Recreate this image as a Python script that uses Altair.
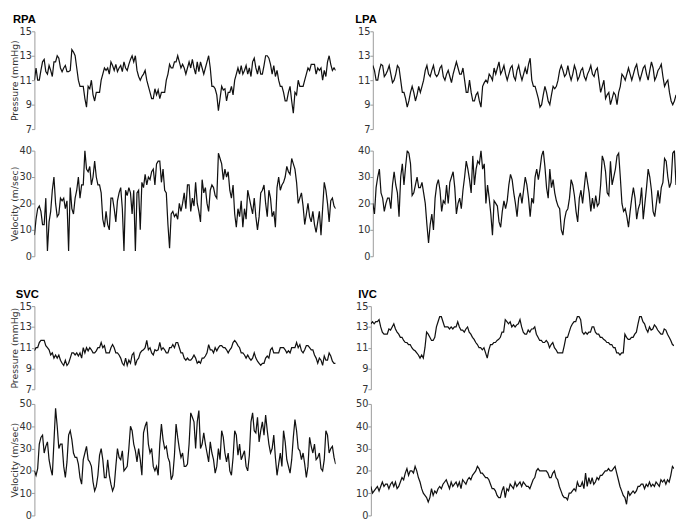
import altair as alt
import pandas as pd

# ---- data (one value per equally spaced sample) ----
RPA_PRESSURE = [
    11.0, 12.0, 11.0, 11.0, 11.8, 12.5, 12.7, 11.7, 11.5, 12.2,
    11.8, 11.3, 12.5, 12.5, 13.0, 12.8, 12.0, 11.7, 12.0, 12.2,
    11.7, 11.7, 11.8, 13.5, 13.3, 13.0, 12.0, 11.0, 10.5, 10.5,
    10.5, 9.5, 8.8, 10.5, 10.3, 11.0, 9.8, 9.3, 10.0, 10.0,
    10.0, 11.0, 11.5, 12.0, 11.8, 12.0, 11.5, 12.5, 12.2, 11.8,
    12.3, 11.7, 12.0, 12.2, 11.7, 12.5, 12.0, 11.8, 12.3, 12.7,
    13.0, 12.5, 13.0, 11.8, 11.3, 11.0, 11.3, 11.5, 11.8, 11.0,
    10.5, 10.0, 9.5, 9.5, 10.3, 9.8, 10.2, 9.5, 10.0, 10.0,
    10.0, 11.0, 11.5, 12.3, 12.0, 12.0, 12.5, 12.5, 13.0, 12.5,
    12.0, 12.3, 12.0, 11.5, 12.0, 12.5, 12.0, 12.7, 12.0, 11.5,
    12.5, 11.7, 12.5, 12.0, 11.5, 12.0, 12.5, 13.0, 12.0, 10.5,
    10.5, 10.3, 9.8, 8.5, 9.5, 10.5, 10.2, 10.3, 9.3, 10.0,
    10.0, 10.5, 9.8, 11.0, 11.5, 12.0, 11.5, 12.2, 11.5, 11.8,
    12.2, 11.5, 12.0, 11.3, 12.5, 12.8, 12.0, 11.5, 12.2, 11.5,
    11.5, 12.2, 13.0, 13.0, 12.8, 12.3, 11.5, 12.2, 11.3, 11.8,
    11.0, 10.5, 10.5, 10.0, 9.3, 9.3, 10.0, 10.5, 9.3, 8.3,
    10.0, 9.8, 11.0, 10.5, 10.5, 10.5, 11.0, 11.5, 12.0, 11.8,
    12.3, 12.3, 12.3, 11.5, 12.0, 11.8, 12.0, 11.0, 11.8, 11.3,
    12.5, 13.0, 12.3, 11.8, 12.0, 11.8,
]

RPA_VELOCITY = [
    8, 14, 18, 19, 17, 12, 12, 22, 2, 13,
    17, 25, 30, 20, 15, 16, 22, 21, 22, 18,
    21, 2, 26, 18, 16, 22, 25, 30, 22, 27,
    27, 40, 33, 32, 34, 27, 30, 36, 30, 27,
    27, 24, 14, 11, 17, 12, 10, 22, 22, 18,
    13, 21, 24, 26, 18, 2, 25, 23, 26, 24,
    16, 25, 2, 24, 25, 10, 28, 26, 31, 27,
    30, 29, 32, 33, 27, 35, 36, 36, 28, 33,
    25, 24, 12, 3, 16, 17, 15, 16, 14, 20,
    17, 20, 24, 18, 27, 27, 17, 22, 19, 28,
    20, 17, 13, 29, 24, 26, 20, 17, 25, 27,
    26, 23, 22, 39, 37, 35, 29, 33, 30, 32,
    25, 22, 27, 16, 11, 18, 15, 21, 11, 18,
    14, 25, 22, 19, 16, 22, 15, 10, 15, 24,
    25, 27, 20, 15, 25, 22, 15, 17, 11, 26,
    30, 25, 27, 28, 30, 34, 32, 31, 37, 35,
    33, 28, 20, 22, 24, 19, 12, 16, 20, 15,
    13, 17, 12, 9, 13, 17, 8, 18, 28, 25,
    20, 13, 21, 22, 19, 18,
]

LPA_PRESSURE = [
    12.2, 11.8, 11.0, 11.0, 11.8, 12.3, 12.2, 11.3, 11.5, 11.8,
    12.2, 11.5, 10.8, 11.0, 11.5, 12.2, 12.0, 11.0, 10.0, 10.0,
    9.5, 8.8, 9.3, 10.0, 10.5, 10.0, 9.3, 9.8, 10.5, 10.0,
    10.5, 11.0, 11.8, 12.2, 11.5, 11.3, 11.8, 12.2, 11.5, 11.3,
    11.5, 12.0, 12.2, 11.3, 11.0, 11.5, 11.8, 11.3, 10.8, 11.5,
    12.0, 12.5, 12.0, 11.5, 11.5, 12.0, 11.0, 10.0, 10.0, 11.0,
    10.0, 9.3, 9.3, 9.8, 10.0, 9.3, 8.8, 10.5, 10.8, 11.0,
    10.8, 11.5, 11.3, 11.0, 12.0, 11.5, 12.0, 12.5, 11.5, 11.8,
    12.2, 11.5, 11.0, 11.5, 12.0, 12.2, 11.3, 11.0, 11.8, 12.2,
    11.5, 11.0, 11.5, 12.0, 11.5, 12.3, 12.8, 11.0, 10.5, 10.5,
    10.0, 9.5, 8.8, 9.0, 9.8, 10.5, 10.0, 9.3, 9.0, 9.8,
    10.5, 10.3, 10.5, 11.0, 11.8, 12.2, 11.8, 11.3, 11.5, 12.2,
    11.5, 11.0, 11.5, 12.2, 11.8, 11.0, 11.3, 11.8, 12.0, 11.3,
    11.0, 11.5, 11.8, 12.2, 11.5, 11.3, 11.8, 12.0, 11.0, 10.0,
    10.5, 11.0, 9.5, 9.8, 10.0, 9.0, 9.5, 10.0, 9.8, 9.0,
    10.0, 10.5, 11.5, 11.3, 11.0, 11.5, 12.0, 11.5, 11.0, 11.5,
    12.0, 12.3, 11.5, 11.0, 11.5, 12.0, 12.2, 11.5, 11.0, 11.8,
    12.5, 12.0, 11.0, 11.3, 11.8, 12.0, 12.3, 11.3, 10.5, 10.8,
    11.0, 10.0, 9.3, 9.0, 9.3, 9.8,
]

LPA_VELOCITY = [
    20, 16, 26, 30, 33, 24, 22, 17, 20, 22,
    22, 18, 27, 32, 27, 24, 15, 30, 35, 27,
    34, 40, 39, 35, 23, 24, 27, 30, 26, 26,
    28, 24, 20, 12, 5, 12, 16, 10, 22, 27,
    29, 25, 17, 21, 20, 27, 20, 28, 30, 32,
    26, 16, 20, 22, 18, 25, 30, 36, 33, 29,
    24, 38, 27, 33, 36, 35, 40, 33, 35, 20,
    27, 22, 16, 8, 21, 20, 19, 13, 11, 17,
    21, 18, 21, 27, 31, 29, 24, 20, 15, 22,
    24, 20, 25, 30, 27, 22, 15, 22, 20, 30,
    33, 29, 33, 38, 40, 34, 26, 22, 33, 26,
    29, 24, 21, 19, 18, 10, 8, 14, 17, 18,
    22, 29, 27, 23, 17, 13, 22, 25, 20, 26,
    32, 28, 24, 17, 22, 18, 23, 19, 20, 27,
    38, 36, 32, 24, 23, 36, 27, 30, 33, 38,
    39, 30, 20, 17, 18, 15, 11, 17, 22, 26,
    22, 14, 18, 20, 26, 14, 20, 26, 33, 30,
    25, 17, 15, 20, 25, 20, 26, 28, 37, 36,
    30, 26, 28, 39, 40, 27,
]

SVC_PRESSURE = [
    10.7, 11.0, 11.0, 11.5, 11.7, 11.7, 11.7, 11.2, 11.0, 10.8,
    10.3, 10.5, 10.0, 10.3, 10.0, 10.3, 9.8, 9.5, 9.3, 9.8,
    9.3, 9.5, 10.0, 10.5, 10.5, 10.3, 10.5, 10.2, 10.5, 10.0,
    11.0, 10.5, 11.0, 10.7, 11.0, 10.8, 10.5, 10.5, 10.7, 11.0,
    11.0, 11.5, 11.0, 11.2, 10.5, 10.5, 10.5, 11.0, 11.3, 11.0,
    10.5, 10.5, 10.3, 10.0, 9.5, 9.3, 10.0, 9.3, 9.8, 9.5,
    10.3, 10.5, 9.3, 9.8, 10.0, 10.5, 10.7, 10.8, 11.0, 11.7,
    10.8, 11.0, 10.5, 10.3, 10.8, 10.7, 10.8, 11.5, 10.8, 11.0,
    10.8, 10.5, 10.5, 11.0, 11.0, 11.3, 11.0, 11.5, 11.5, 11.0,
    10.5, 10.5, 10.0, 9.8, 10.0, 9.8, 9.8, 10.0, 10.3, 10.0,
    9.5, 9.7, 9.5, 10.0, 10.0, 10.2, 10.5, 11.3, 10.8, 10.8,
    10.5, 11.0, 10.7, 11.0, 11.2, 11.2, 11.0, 11.0, 10.8, 10.5,
    10.8, 11.0, 11.5, 11.7, 11.5, 11.2, 11.0, 10.5, 10.5, 10.3,
    10.0, 10.3, 10.0, 9.8, 10.0, 10.5, 10.0, 9.7, 9.5, 9.3,
    9.5, 9.5, 10.0, 10.2, 10.0, 10.8, 11.0, 10.5, 10.5, 10.5,
    10.5, 11.0, 11.0, 11.0, 10.8, 10.5, 10.7, 10.5, 11.0, 11.0,
    11.0, 11.5, 11.0, 11.3, 10.7, 10.5, 10.8, 11.2, 11.2, 11.0,
    10.8, 10.8, 10.3, 10.0, 9.5, 10.0, 9.8, 9.3, 10.2, 9.8,
    9.8, 10.5, 10.2, 9.7, 9.5, 9.5,
]

SVC_VELOCITY = [
    20, 18, 21, 32, 35, 36, 28, 31, 33, 25,
    21, 18, 33, 48, 40, 30, 32, 32, 22, 17,
    24, 36, 38, 34, 28, 26, 26, 23, 17, 14,
    25, 28, 31, 25, 24, 22, 15, 11, 13, 18,
    27, 30, 25, 17, 17, 25, 18, 14, 11, 13,
    22, 30, 26, 25, 29, 20, 21, 22, 30, 40,
    38, 32, 29, 24, 30, 25, 18, 37, 40, 42,
    32, 28, 30, 22, 20, 22, 18, 32, 41, 34,
    30, 31, 26, 24, 16, 18, 27, 41, 35, 30,
    26, 28, 22, 22, 23, 32, 46, 44, 42, 30,
    42, 47, 30, 32, 37, 32, 28, 24, 33, 28,
    25, 19, 22, 30, 25, 38, 35, 28, 24, 28,
    20, 18, 26, 38, 36, 27, 32, 25, 27, 29,
    22, 20, 27, 42, 46, 38, 37, 44, 33, 38,
    42, 36, 45, 38, 32, 28, 30, 36, 26, 18,
    23, 28, 22, 38, 33, 25, 22, 19, 25, 35,
    43, 38, 30, 29, 25, 28, 23, 17, 22, 35,
    31, 28, 32, 25, 26, 28, 21, 20, 25, 38,
    36, 28, 30, 31, 26, 23,
]

IVC_PRESSURE = [
    13.3, 13.5, 13.3, 13.5, 13.5, 13.7, 13.0, 12.5, 12.3, 12.3,
    12.3, 12.8, 12.7, 13.0, 13.3, 12.8, 12.5, 12.3, 12.0, 12.0,
    11.7, 11.5, 11.5, 11.3, 11.3, 11.0, 10.8, 10.7, 10.5, 10.3,
    10.0, 10.3, 10.0, 11.0, 12.5, 12.3, 12.0, 11.7, 11.7, 12.0,
    13.0, 13.5, 14.0, 14.0, 13.5, 13.0, 13.0, 13.0, 12.8, 13.0,
    12.8, 13.0, 13.0, 13.5, 13.0, 12.7, 12.7, 12.5, 12.8, 13.0,
    12.5, 12.3, 12.0, 11.8, 11.5, 11.3, 11.0, 11.0, 10.8, 11.0,
    10.5, 10.0, 10.8, 11.3, 11.3, 11.5, 11.5, 11.7, 11.8, 12.0,
    12.5, 12.5, 13.7, 13.5, 13.3, 13.5, 13.0, 13.2, 13.0, 13.2,
    13.3, 13.7, 13.0, 12.5, 12.3, 12.3, 12.7, 12.5, 12.8, 12.8,
    13.0, 12.3, 12.0, 11.7, 11.7, 11.5, 11.5, 11.7, 11.5, 11.0,
    11.3, 11.5, 11.0, 10.8, 10.5, 10.5, 10.5, 10.5, 11.2, 12.0,
    12.0, 12.5, 13.0, 13.3, 13.5, 13.5, 14.0, 14.0, 13.7, 12.5,
    12.3, 12.5, 12.3, 12.5, 12.5, 13.0, 13.0, 12.5, 12.3, 12.3,
    12.0, 12.0, 11.8, 11.7, 11.5, 11.5, 11.3, 11.3, 11.0, 11.0,
    10.5, 10.5, 10.3, 10.5, 10.5, 12.3, 12.0, 11.8, 11.8, 12.0,
    12.0, 12.3, 12.5, 13.3, 14.0, 14.0, 13.5, 13.3, 12.8, 12.5,
    13.0, 12.7, 12.8, 13.2, 13.0, 12.7, 12.5, 12.3, 12.3, 12.8,
    12.7, 12.3, 12.0, 11.7, 11.3, 11.2,
]

IVC_VELOCITY = [
    13, 10, 11, 12, 13, 11, 13, 15, 13, 14,
    14, 12, 14, 15, 13, 15, 12, 13, 15, 17,
    16, 19, 21, 18, 20, 20, 19, 22, 20, 17,
    15, 12, 10, 9, 8, 6, 8, 12, 9, 11,
    10, 12, 13, 12, 14, 15, 16, 14, 12, 15,
    13, 14, 15, 13, 15, 12, 16, 15, 14, 16,
    17, 16, 18, 19, 20, 22, 21, 19, 19, 18,
    17, 17, 16, 14, 12, 12, 11, 9, 8, 8,
    11, 13, 8, 12, 11, 14, 13, 12, 15, 13,
    14, 15, 13, 15, 14, 13, 13, 12, 14, 16,
    17, 20, 21, 20, 20, 20, 20, 20, 19, 17,
    17, 19, 20, 17, 16, 13, 11, 9, 8, 8,
    7, 10, 10, 11, 12, 11, 15, 13, 13, 15,
    12, 19, 13, 17, 14, 17, 14, 15, 17, 16,
    18, 18, 19, 20, 20, 21, 20, 20, 21, 22,
    19, 16, 13, 11, 9, 8, 5, 11, 9, 10,
    11, 10, 11, 13, 13, 14, 14, 12, 14, 13,
    15, 13, 14, 13, 15, 14, 13, 16, 15, 16,
    14, 16, 15, 18, 22, 21,
]

PRESSURE_TICKS = [7, 9, 11, 13, 15]
VEL_TICKS_TOP = [0, 10, 20, 30, 40]
VEL_TICKS_BOTTOM = [0, 10, 20, 30, 40, 50]

LEFT_W = 308
RIGHT_W = 310


def trace(values, domain, ticks, width, height, title=""):
    df = pd.DataFrame({"sample": list(range(len(values))), "value": values})
    return (
        alt.Chart(df)
        .mark_line(color="#111111", strokeWidth=1.25, clip=True)
        .encode(
            x=alt.X("sample:Q", axis=None,
                    scale=alt.Scale(domain=[0, len(values) - 1], nice=False, zero=False)),
            y=alt.Y("value:Q", axis=alt.Axis(values=ticks, format="d", title=title),
                    scale=alt.Scale(domain=domain, nice=False, zero=False)),
        )
        .properties(width=width, height=height)
    )


def heading(name, dx):
    return (
        alt.Chart(pd.DataFrame({"name": [name]}))
        .mark_text(align="left", baseline="alphabetic", fontSize=11.5,
                   fontWeight="bold", font="Liberation Sans", color="#000000")
        .encode(x=alt.value(dx), y=alt.value(-8), text="name:N")
    )


def group(name, p, v, left, top_row, dx):
    if top_row:
        hp, hv, tp, tv, sp = 100, 108, VEL_TICKS_TOP, [0, 40], 10
    else:
        hp, hv, tp, tv, sp = 85, 114, VEL_TICKS_BOTTOM, [0, 50], 3
    w = LEFT_W if left else RIGHT_W
    pc = trace(p, [7, 15], PRESSURE_TICKS, w, hp, "Pressure (mmHg)" if left else "")
    vc = trace(v, tv, tp, w, hv, "Velocity (m/sec)" if left else "")
    return alt.vconcat(alt.layer(pc, heading(name, dx)), vc, spacing=sp)


row1 = alt.hconcat(
    group("RPA", RPA_PRESSURE, RPA_VELOCITY, True, True, -22),
    group("LPA", LPA_PRESSURE, LPA_VELOCITY, False, True, -18),
    spacing=18,
)
row2 = alt.hconcat(
    group("SVC", SVC_PRESSURE, SVC_VELOCITY, True, False, -19),
    group("IVC", IVC_PRESSURE, IVC_VELOCITY, False, False, -13),
    spacing=18,
)

chart = (
    alt.vconcat(row1, row2, spacing=27)
    .properties(padding=0, background="white")
    .configure_view(stroke="transparent")
    .configure_axis(
        domainColor="#9a9a9a", tickColor="#9a9a9a", tickSize=3,
        labelColor="#333333", labelFont="DejaVu Sans", labelFontSize=10,
        labelPadding=0, titleFont="DejaVu Sans", titleFontSize=9.5,
        titleFontWeight="normal", titleColor="#333333", titlePadding=0,
        grid=False,
    )
)

chart.save("out.html", embed_options={"renderer": "svg", "actions": False})
